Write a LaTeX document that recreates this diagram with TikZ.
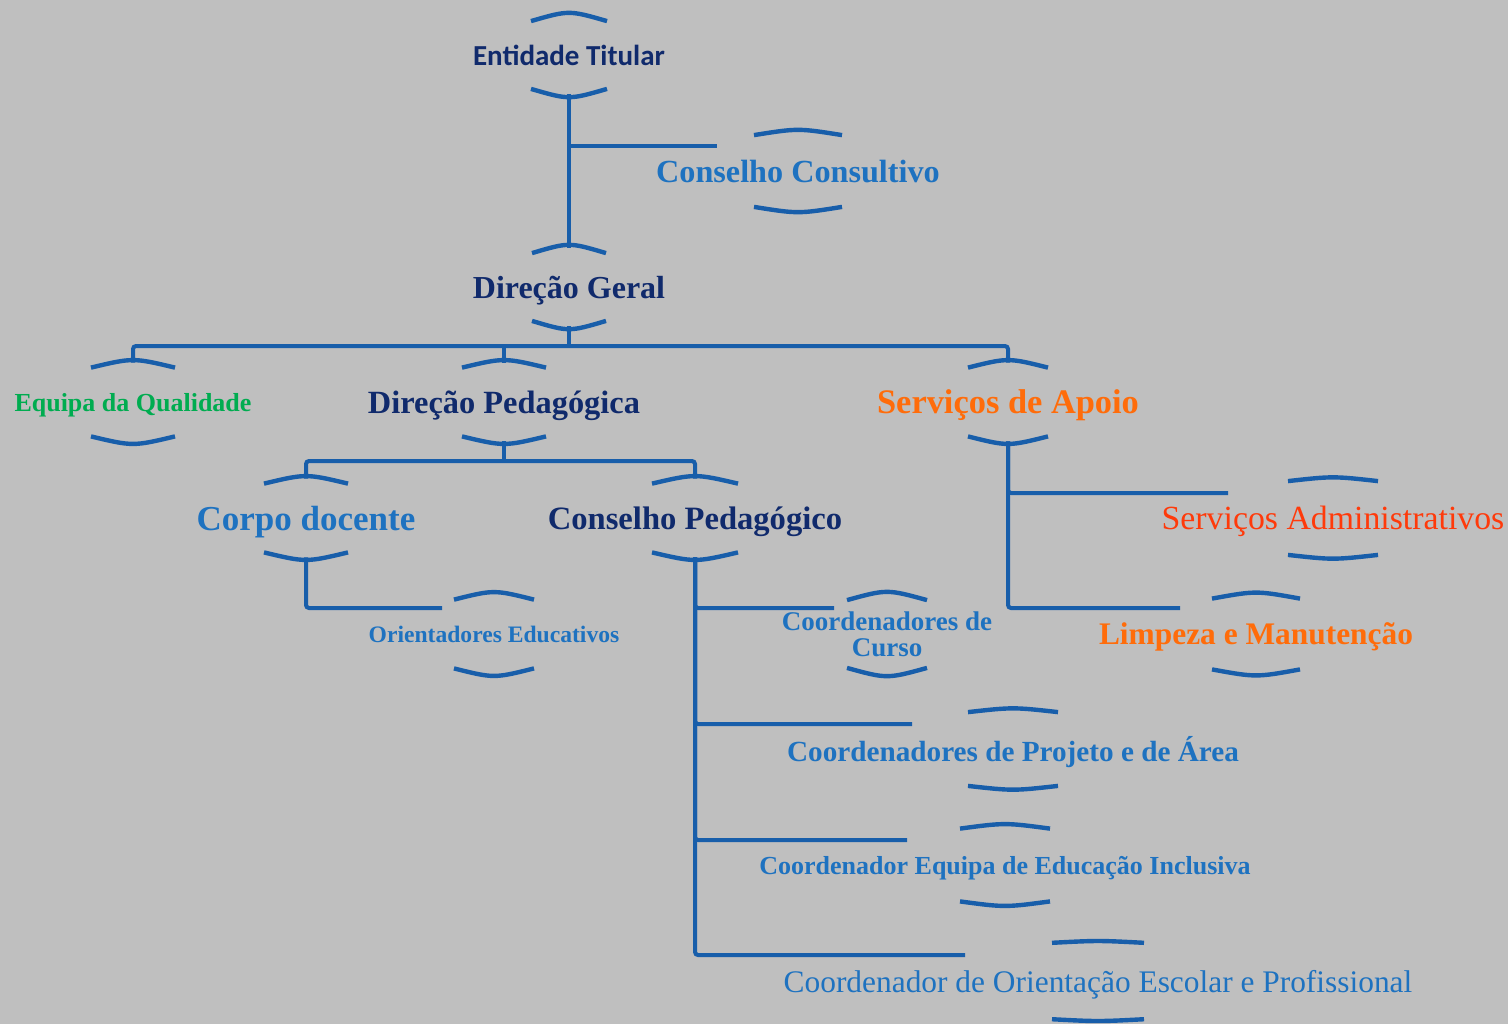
\documentclass[tikz,border=0pt]{standalone}
\usepackage{fontspec}
\setmainfont{Liberation Serif}
\newfontfamily\carlito{Carlito}

\definecolor{bgc}{RGB}{191,191,191}
\definecolor{linec}{RGB}{24,94,170}
\definecolor{navyc}{RGB}{16,42,108}
\definecolor{bluec}{RGB}{30,114,192}
\definecolor{greenc}{RGB}{0,172,80}
\definecolor{orangec}{RGB}{255,108,10}
\definecolor{redc}{RGB}{255,58,10}

\begin{document}
\begin{tikzpicture}[x=0.5pt, y=-0.5pt,
    box/.style={minimum height=39pt, inner sep=0pt, align=center, text depth=0pt},
    tsans/.style={text=navyc, font=\carlito\bfseries},
    tnavy/.style={text=navyc, font=\bfseries},
    tblue/.style={text=bluec, font=\bfseries},
    tgreen/.style={text=greenc, font=\bfseries},
    torange/.style={text=orangec, font=\bfseries},
    tred/.style={text=redc},
    tcond/.style={text=bluec},
    link/.style={draw=linec, line width=2pt, rounded corners=1.5pt},
    brace/.style={draw=linec, line width=2.2pt}]

   \fill [bgc] (0,0) rectangle (1508,1024);
   \useasboundingbox (0,0) rectangle (1508,1024);

   \foreach \n/\x/\y/\s/\f/\t in {ent/569/55/tsans/14.5/Entidade Titular,
        cc/798/171/tblue/16.1/Conselho Consultivo,
        dg/569/287/tnavy/16/Direção Geral,
        eq/133/402/tgreen/13/Equipa da Qualidade,
        dp/504/402/tnavy/16.2/Direção Pedagógica,
        sa/1008/402/torange/17.2/Serviços de Apoio,
        cd/306/518/tblue/17.5/Corpo docente,
        cp/695/518/tnavy/16.3/Conselho Pedagógico,
        oe/494/634/tblue/11.8/Orientadores Educativos,
        ccur/887/634/tblue/13.5/{Coordenadores de\\Curso},
        sadm/1333/518/tred/16.9/Serviços Administrativos,
        lm/1256/634/torange/15.7/Limpeza e Manutenção,
        cpa/1013/749/tblue/14.6/Coordenadores de Projeto e de Área,
        cei/1005/865/tblue/13/Coordenador Equipa de Educação Inclusiva,
        coe/1098/981/tcond/15.7/Coordenador de Orientação Escolar e Profissional}
     \node [box, \s, node font=\fontsize{\f}{13}\selectfont]
        (\n) at (\x,\y) {\t};

   % arcs above and below each name
   \foreach \n/\w/\s in {ent/38/5.5, cc/44/3.5, dg/37/5.5, eq/42/5, dp/42/5, sa/40/5,
        cd/42/5, cp/43/5, oe/40/5, ccur/40/5.5, sadm/45/2.5, lm/44/4,
        cpa/45/2.5, cei/45/3, coe/46/1.2}
   {
     \draw [brace] ([shift={(-\w,\s)}]\n.north) .. controls ([shift={(0,-\s)}]\n.north) .. ([shift={(\w,\s)}]\n.north);
     \draw [brace] ([shift={(-\w,-\s)}]\n.south) .. controls ([shift={(0,\s)}]\n.south) .. ([shift={(\w,-\s)}]\n.south);
   }

   \coordinate (bus1) at (0,346);
   \coordinate (bus2) at (0,461);
   \coordinate (incc) at (717,146);
   \coordinate (inoe) at (442,608);
   \coordinate (inccur) at (834,608);
   \coordinate (incpa) at (912,724);
   \coordinate (incei) at (907,840);
   \coordinate (incoe) at (965,955);
   \coordinate (insadm) at (1228,493);
   \coordinate (inlm) at (1180,608);

   \draw [link] (ent.south) -- (dg.north);
   \draw [link] (ent.south |- incc) -- (incc);
   \draw [link] (dg.south) -- (dg.south |- bus1);
   \draw [link] (eq.north) -- (eq.north |- bus1) -| (sa.north);
   \draw [link] (dp.north) -- (dp.north |- bus1);
   \draw [link] (dp.south) -- (dp.south |- bus2);
   \draw [link] (cd.north) -- (cd.north |- bus2) -| (cp.north);
   \draw [link] (cd.south) |- (inoe);

   \foreach \t in {ccur, cpa, cei, coe}
     \draw [link] (cp.south) |- (in\t);
   \foreach \t in {sadm, lm}
     \draw [link] (sa.south) |- (in\t);

\end{tikzpicture}
\end{document}
